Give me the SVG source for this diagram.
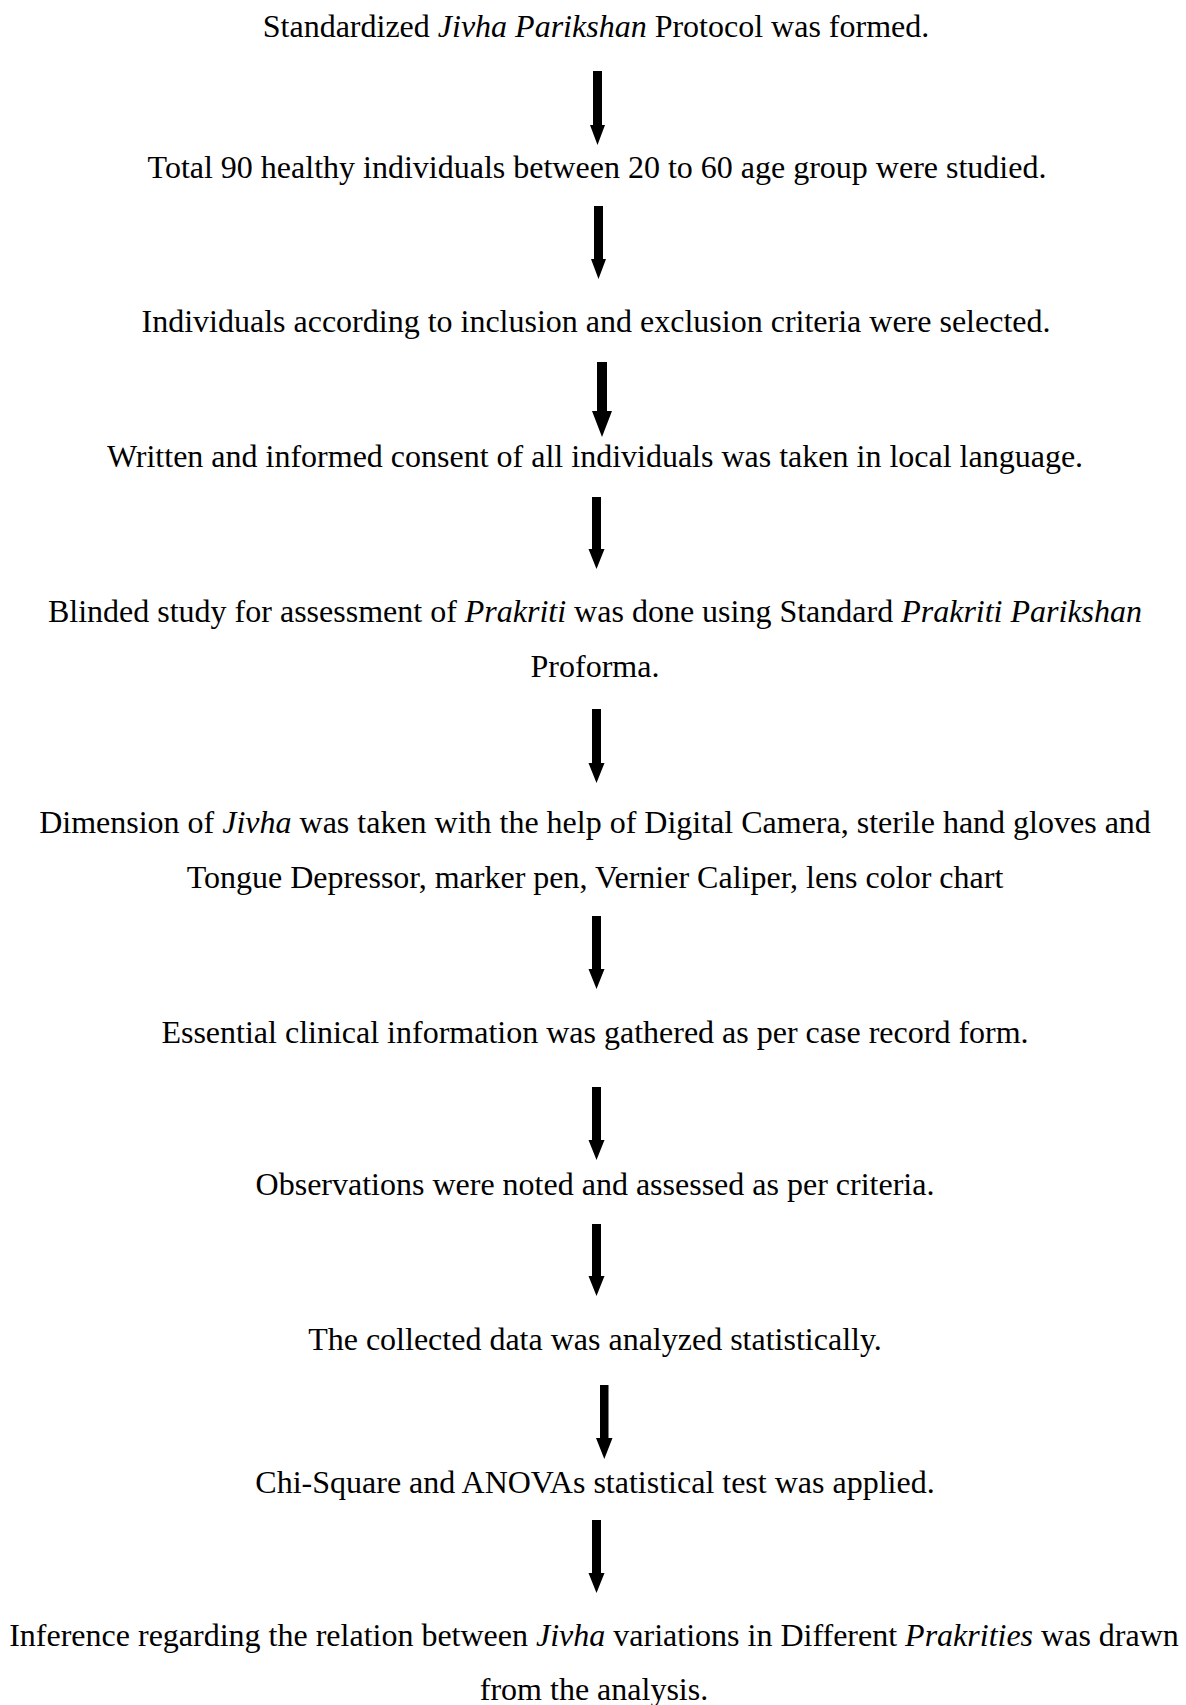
<svg xmlns="http://www.w3.org/2000/svg" width="1186" height="1705" viewBox="0 0 1186 1705">
<style>
.t{font-family:"Liberation Serif","Times New Roman",serif;font-size:32px;fill:#000;text-anchor:middle}
.i{font-style:italic}
.a{fill:#000;stroke:none}
</style>
<rect width="1186" height="1705" fill="#fff"/>
<g id="n1"><text class="t" x="596" y="37">Standardized <tspan class="i">Jivha Parikshan</tspan> Protocol was formed.</text></g>
<g id="n2"><text class="t" x="597" y="178">Total 90 healthy individuals between 20 to 60 age group were studied.</text></g>
<g id="n3"><text class="t" x="596" y="332">Individuals according to inclusion and exclusion criteria were selected.</text></g>
<g id="n4"><text class="t" x="595" y="467">Written and informed consent of all individuals was taken in local language.</text></g>
<g id="n5"><text class="t" x="595" y="622">Blinded study for assessment of <tspan class="i">Prakriti</tspan> was done using Standard <tspan class="i">Prakriti Parikshan</tspan></text><text class="t" x="595" y="677">Proforma.</text></g>
<g id="n6"><text class="t" x="595" y="833">Dimension of <tspan class="i">Jivha</tspan> was taken with the help of Digital Camera, sterile hand gloves and</text><text class="t" x="595" y="888">Tongue Depressor, marker pen, Vernier Caliper, lens color chart</text></g>
<g id="n7"><text class="t" x="595" y="1043">Essential clinical information was gathered as per case record form.</text></g>
<g id="n8"><text class="t" x="595" y="1195">Observations were noted and assessed as per criteria.</text></g>
<g id="n9"><text class="t" x="595" y="1350">The collected data was analyzed statistically.</text></g>
<g id="n10"><text class="t" x="595" y="1493">Chi-Square and ANOVAs statistical test was applied.</text></g>
<g id="n11"><text class="t" x="594" y="1646">Inference regarding the relation between <tspan class="i">Jivha</tspan> variations in Different <tspan class="i">Prakrities</tspan> was drawn</text><text class="t" x="594" y="1700">from the analysis.</text></g>
<g id="connectors">
<polygon class="a" points="593,71 602,71 602,125 605,125 597.5,145 590,125 593,125"/>
<polygon class="a" points="594,206 603,206 603,259 606,259 598.5,279 591,259 594,259"/>
<polygon class="a" points="597,362 607,362 607,411 612,411 602,437 592,411 597,411"/>
<polygon class="a" points="592,497 601,497 601,549 604.5,549 596.5,569 588.5,549 592,549"/>
<polygon class="a" points="592,709 601,709 601,763 604.5,763 596.5,783 588.5,763 592,763"/>
<polygon class="a" points="592,916 601,916 601,969 604.5,969 596.5,989 588.5,969 592,969"/>
<polygon class="a" points="592,1087 601,1087 601,1140 604.5,1140 596.5,1160 588.5,1140 592,1140"/>
<polygon class="a" points="592,1224 601,1224 601,1276 604.5,1276 596.5,1296 588.5,1276 592,1276"/>
<polygon class="a" points="600,1385 608.5,1385 608.5,1438 612.5,1438 604.3,1459 596,1438 600,1438"/>
<polygon class="a" points="592,1520 601,1520 601,1573 604.5,1573 596.5,1593 588.5,1573 592,1573"/>
</g>
</svg>
